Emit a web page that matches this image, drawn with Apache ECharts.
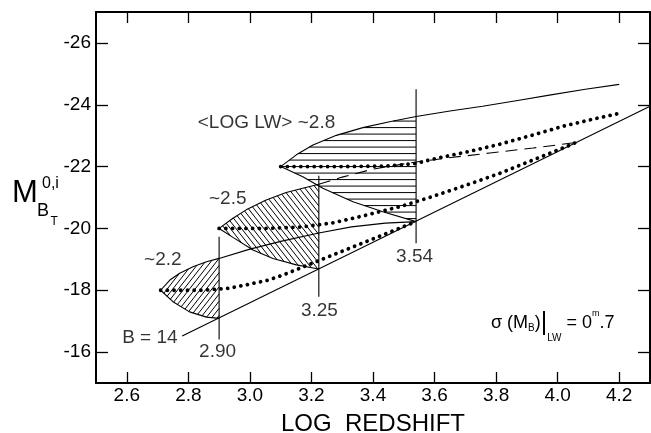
<!DOCTYPE html>
<html>
<head>
<meta charset="utf-8">
<script src="https://cdn.jsdelivr.net/npm/echarts@6/dist/echarts.min.js"></script>
<style>
html,body{margin:0;padding:0;background:#fff;}
#c{width:651px;height:433px;}
</style>
</head>
<body>
<div id="c"></div>
<script>
// ---- tick labels ----
const xTicks = [2.6, 2.8, 3.0, 3.2, 3.4, 3.6, 3.8, 4.0, 4.2];
const yTicks = [-26, -24, -22, -20, -18, -16];

// ---- wedge boundaries [logRedshift, M] ----
const w1Upper = [[2.71,-18.0],[2.74,-18.33],[2.772,-18.55],[2.815,-18.76],[2.859,-18.92],[2.90,-19.03]];
const w1UpperExt = [[2.90,-19.03],[3.0,-19.33],[3.1,-19.58],[3.224,-19.85],[3.33,-20.05],[3.44,-20.17],[3.54,-20.22]];
const w1Lower = [[2.71,-18.0],[2.75,-17.63],[2.804,-17.30],[2.859,-17.13],[2.90,-17.09]];

const w2Upper = [[2.90,-20.0],[2.945,-20.33],[2.988,-20.60],[3.053,-20.92],[3.118,-21.16],[3.172,-21.30],[3.224,-21.43]];
const w2UpperExt = [[3.224,-21.43],[3.30,-21.66],[3.40,-21.92],[3.54,-22.15],[3.66,-22.30],[3.78,-22.44],[3.92,-22.60],[4.06,-22.78]];
const w2Lower = [[2.90,-20.0],[2.945,-19.71],[3.01,-19.30],[3.075,-19.03],[3.151,-18.82],[3.224,-18.69]];

const w3Upper = [[3.10,-22.0],[3.151,-22.38],[3.205,-22.70],[3.281,-23.01],[3.367,-23.26],[3.454,-23.45],[3.54,-23.62]];
const w3UpperExt = [[3.54,-23.62],[3.65,-23.80],[3.756,-23.95],[3.87,-24.14],[3.973,-24.31],[4.09,-24.50],[4.20,-24.66]];
const w3Lower = [[3.10,-22.0],[3.172,-21.67],[3.237,-21.30],[3.335,-20.86],[3.432,-20.54],[3.54,-20.22]];

// ---- limit line B = 14 ----
const bLimit = [[2.78,-16.52],[4.30,-23.95]];

// ---- vertical markers ----
const v290 = [[2.90,-19.73],[2.90,-16.41]];
const v325 = [[3.224,-21.70],[3.224,-17.79]];
const v354 = [[3.54,-24.50],[3.54,-19.52]];

// ---- mean observed M (dotted) ----
const d22 = [[2.71,-18.0],[2.85,-18.0],[2.93,-18.06],[3.0,-18.2],[3.06,-18.33],[3.107,-18.49],[3.162,-18.71],[3.226,-18.97],[3.324,-19.36],[3.432,-19.79],[3.54,-20.22]];
const d25 = [[2.90,-20.0],[3.05,-20.0],[3.162,-20.04],[3.27,-20.18],[3.378,-20.43],[3.486,-20.70],[3.59,-21.02],[3.703,-21.40],[3.811,-21.78],[3.919,-22.21],[4.027,-22.64],[4.06,-22.78]];
const d28 = [[3.10,-22.0],[3.30,-22.0],[3.45,-22.02],[3.54,-22.10],[3.594,-22.24],[3.703,-22.47],[3.811,-22.72],[3.919,-23.02],[4.027,-23.33],[4.135,-23.58],[4.20,-23.72]];

// ---- annotations [x, y, text] ----
const annotations = [
  [2.717, -18.98, '~2.2'],
  [2.928, -20.95, '~2.5'],
  [3.054, -23.41, '<LOG LW> ~2.8'],
  [2.675, -16.45, 'B = 14'],
  [2.895, -16.00, '2.90'],
  [3.226, -17.33, '3.25'],
  [3.535, -19.07, '3.54']
];

// hatch specs: angle (deg) and spacing (px)
const wedgePolys = [
  w1Upper.concat(w1Lower.slice().reverse()),
  w2Upper.concat(w2Lower.slice().reverse()),
  w3Upper.concat(w3Lower.slice().reverse())
];
const hatchAngle = [52, -52, 0];
const hatchGap = [4.4, 4.4, 6.5];
const wedgeTips = [w1Upper[0], w2Upper[0], w3Upper[0]];

const FONT = '"Liberation Sans", Arial, Helvetica, sans-serif';

function hatchRender(params, api) {
  const i = params.dataIndex;
  const poly = wedgePolys[i].map(p => api.coord(p));
  const a = hatchAngle[i] * Math.PI / 180;
  const d = [Math.cos(a), -Math.sin(a)];
  const n = [-d[1], d[0]];
  const o = api.coord(wedgeTips[i]);
  const proj = p => (p[0]-o[0])*n[0] + (p[1]-o[1])*n[1];
  const along = p => (p[0]-o[0])*d[0] + (p[1]-o[1])*d[1];
  let smin = Infinity, smax = -Infinity;
  poly.forEach(p => { const s = proj(p); smin = Math.min(smin, s); smax = Math.max(smax, s); });
  const sp = hatchGap[i];
  const children = [];
  for (let k = Math.ceil(smin/sp); k*sp <= smax; k++) {
    const s = k*sp;
    let tmin = Infinity, tmax = -Infinity;
    for (let j = 0; j < poly.length; j++) {
      const A = poly[j], B = poly[(j+1)%poly.length];
      const sa = proj(A) - s, sb = proj(B) - s;
      if (sa === sb) continue;
      if ((sa <= 0 && sb >= 0) || (sa >= 0 && sb <= 0)) {
        const u = sa/(sa-sb);
        const P = [A[0]+u*(B[0]-A[0]), A[1]+u*(B[1]-A[1])];
        const t = along(P);
        tmin = Math.min(tmin, t); tmax = Math.max(tmax, t);
      }
    }
    if (tmax > tmin) {
      children.push({
        type: 'line',
        shape: {
          x1: o[0] + s*n[0] + tmin*d[0], y1: o[1] + s*n[1] + tmin*d[1],
          x2: o[0] + s*n[0] + tmax*d[0], y2: o[1] + s*n[1] + tmax*d[1]
        },
        style: {stroke: '#000', lineWidth: 1}
      });
    }
  }
  return {type: 'group', children};
}

function solid(data, extra) {
  return Object.assign({
    type: 'line', data: data, symbol: 'none', silent: true, z: 3,
    lineStyle: {color: '#000', width: 1.1}
  }, extra || {});
}
function dotted(data) {
  return {
    type: 'line', data: data, symbol: 'none', silent: true, z: 4,
    lineStyle: {color: '#000', width: 3.8, type: [0.01, 6.7], cap: 'round'}
  };
}

const chart = echarts.init(document.getElementById('c'), null, {renderer: 'canvas'});
const axisCommon = {
  type: 'value',
  splitLine: {show: false},
  axisLine: {show: true, onZero: false, lineStyle: {color: '#000', width: 2}},
};
chart.setOption({
  animation: false,
  backgroundColor: '#fff',
  grid: {left: 96, right: 1, top: 12, bottom: 50, containLabel: false, outerBoundsMode: 'none'},
  xAxis: [
    Object.assign({}, axisCommon, {
      min: 2.5, max: 4.3, position: 'bottom',
      name: 'LOG  REDSHIFT', nameLocation: 'middle', nameGap: 29,
      nameTextStyle: {fontFamily: FONT, fontSize: 24, color: '#000'},
      axisTick: {show: true, inside: true, length: 11, customValues: xTicks, lineStyle: {color: '#000', width: 1.3}},
      axisLabel: {show: true, customValues: xTicks, margin: 3, fontFamily: FONT, fontSize: 19, color: '#000',
        formatter: v => Number(v).toFixed(1)}
    }),
    Object.assign({}, axisCommon, {
      min: 2.5, max: 4.3, position: 'top',
      axisTick: {show: true, inside: true, length: 11, customValues: xTicks, lineStyle: {color: '#000', width: 1.3}},
      axisLabel: {show: false}
    })
  ],
  yAxis: [
    Object.assign({}, axisCommon, {
      min: -27, max: -15, inverse: true, position: 'left',
      axisTick: {show: true, inside: true, length: 12, customValues: yTicks, lineStyle: {color: '#000', width: 1.3}},
      axisLabel: {show: true, customValues: yTicks, margin: 5, fontFamily: FONT, fontSize: 19, color: '#000',
        formatter: v => String(v)}
    }),
    Object.assign({}, axisCommon, {
      min: -27, max: -15, inverse: true, position: 'right',
      axisTick: {show: true, inside: true, length: 12, customValues: yTicks, lineStyle: {color: '#000', width: 1.3}},
      axisLabel: {show: false}
    })
  ],
  series: [
    {type: 'custom', renderItem: hatchRender, data: wedgeTips, silent: true, z: 1, clip: true},
    solid(w1Upper), solid(w1UpperExt), solid(w1Lower),
    solid(w2Upper), solid(w2Lower),
    solid(w2UpperExt, {lineStyle: {color: '#000', width: 1.1, type: [12, 7]}}),
    solid(w3Upper), solid(w3UpperExt), solid(w3Lower),
    solid(bLimit),
    solid(v290), solid(v325), solid(v354),
    dotted(d22), dotted(d25), dotted(d28),
    {
      type: 'scatter', symbolSize: 0, silent: true, z: 5,
      data: annotations.map(a => ({value: [a[0], a[1]], name: a[2]})),
      label: {show: true, position: 'inside', formatter: p => p.name,
        fontFamily: FONT, fontSize: 19, color: '#000', align: 'center', verticalAlign: 'middle'}
    }
  ],
  graphic: [
    {type: 'text', x: 12, y: 193, style: {text: 'M', fontFamily: FONT, fontSize: 31, fill: '#000', align: 'left', verticalAlign: 'middle'}},
    {type: 'text', x: 42, y: 184, style: {text: '0,i', fontFamily: FONT, fontSize: 16, fill: '#000', align: 'left', verticalAlign: 'middle'}},
    {type: 'text', x: 37, y: 211.5, style: {text: 'B', fontFamily: FONT, fontSize: 18, fill: '#000', align: 'left', verticalAlign: 'middle'}},
    {type: 'text', x: 50.5, y: 221.5, style: {text: 'T', fontFamily: FONT, fontSize: 12, fill: '#000', align: 'left', verticalAlign: 'middle'}},
    {type: 'text', x: 491, y: 323, style: {
      text: '{n|σ (M}{b|B}{n|)}{bar||}{lw|LW}{n| = 0}{m|m}{n|.7}',
      align: 'left', verticalAlign: 'middle',
      rich: {
        n: {fontFamily: FONT, fontSize: 18, lineHeight: 40, fill: '#000'},
        b: {fontFamily: FONT, fontSize: 10, lineHeight: 12, padding: [10,0,0,0], fill: '#000'},
        lw: {fontFamily: FONT, fontSize: 10, lineHeight: 12, verticalAlign: 'bottom', fill: '#000'},
        m: {fontFamily: FONT, fontSize: 9, lineHeight: 10, padding: [0,0,19,0], fill: '#000'},
        bar: {fontFamily: FONT, fontSize: 25, lineHeight: 40, fill: '#000'}
      }
    }}
  ]
});
</script>
</body>
</html>
